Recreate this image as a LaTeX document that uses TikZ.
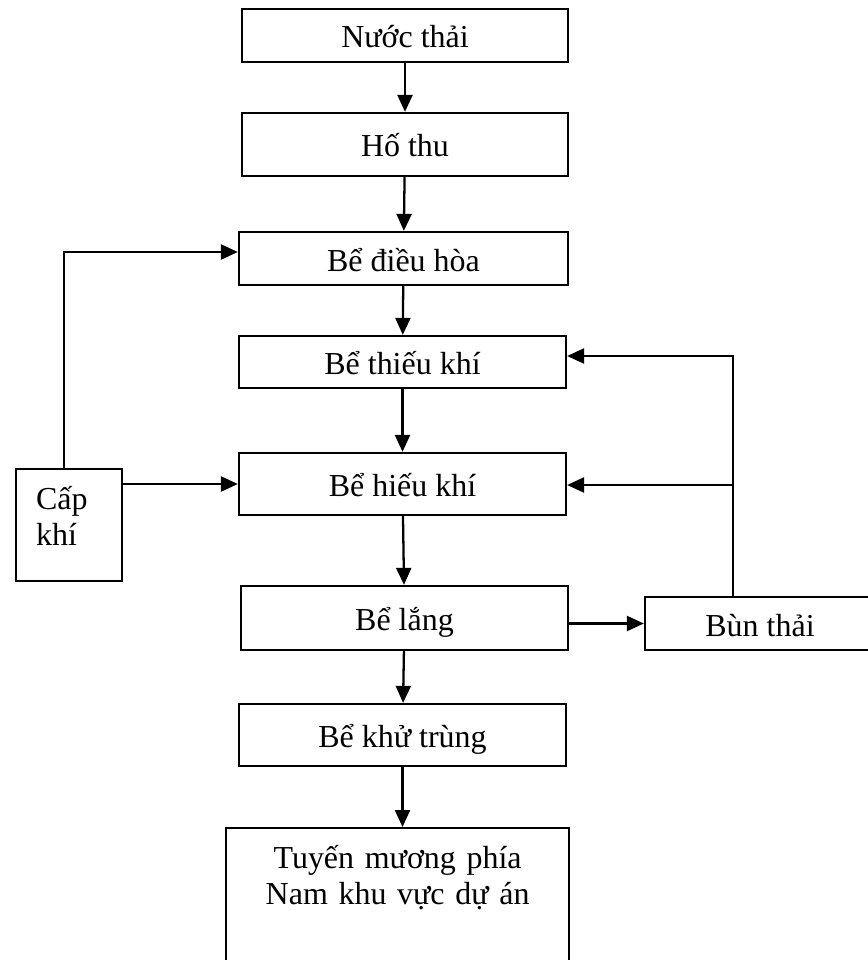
\documentclass[tikz,border=0pt]{standalone}
\usepackage{fontspec}
\setmainfont{Liberation Serif}
\usepackage{tikz}
\usetikzlibrary{arrows.meta}

\begin{document}
\begin{tikzpicture}[x=0.02cm, y=-0.02cm,
    >={Triangle[length=0.34cm, width=0.3cm]},
    every node/.style={font=\fontsize{18.2}{20.5}\selectfont},
    box/.style={draw, rectangle, line width=1.3pt, text height=0.5cm, text depth=0pt, inner sep=0pt},
    arr/.style={->, line width=1.3pt}]
    \useasboundingbox (0,0) rectangle (867,960);

    % Main line - one box under the other
    \node[box, minimum width=6.52cm, minimum height=1.06cm] (nuoc) at (405,35.5) {Nước thải};
    \node[box, minimum width=6.52cm, minimum height=1.26cm] (hothu) at (405,144.5) {Hố thu};
    \node[box, minimum width=6.58cm, minimum height=1.06cm] (dieuhoa) at (403.5,258.5) {Bể điều hòa};
    \node[box, minimum width=6.54cm, minimum height=1.04cm] (thieukhi) at (402.5,362) {Bể thiếu khí};
    \node[box, minimum width=6.54cm, minimum height=1.24cm] (hieukhi) at (402.5,484) {Bể hiếu khí};
    \node[box, minimum width=6.54cm, minimum height=1.28cm] (lang) at (404.5,618) {Bể lắng};
    \node[box, minimum width=6.54cm, minimum height=1.24cm] (khutrung) at (402.5,735) {Bể khử trùng};
    \node[box, anchor=north west, text width=6.26cm, align=center, inner xsep=0.3cm, inner ysep=0.3cm,
        text depth=3cm] (tuyen) at (225,827) {Tuyến mương phía\\
        Nam khu vực dự án};

    % Side boxes
    \node[box, anchor=north west, text width=1.32cm, align=left, inner xsep=0.4cm, inner ysep=0.3cm,
        text depth=1.14cm] (capkhi) at (15,468) {Cấp\\
        khí};
    \node[box, minimum width=4.6cm, minimum height=1.06cm] (bun) at (760,623.5) {Bùn thải};
    \coordinate (nhanh) at (733,485);

    % Edges along the main line
    \draw[arr] (nuoc) -- (hothu);
    \draw[arr] (hothu) -- (dieuhoa);
    \draw[arr] (dieuhoa) -- (thieukhi);
    \draw[arr] (thieukhi) -- (hieukhi);
    \draw[arr] (hieukhi) -- (lang);
    \draw[arr] (lang) -- (khutrung);
    \draw[arr] (khutrung) -- (tuyen.north -| khutrung.south);

    % Air supply
    \draw[arr] ([xshift=-0.1cm]capkhi.north) |- ([yshift=0.13cm]dieuhoa.west);
    \draw[arr] (capkhi.east |- hieukhi.west) -- (hieukhi.west);

    % Sludge
    \draw[arr] (lang.east |- bun.west) -- (bun.west);
    \draw[arr] (bun.north -| nhanh) |- ([yshift=0.12cm]thieukhi.east);
    \draw[arr] (nhanh) -- (hieukhi.east |- nhanh);
\end{tikzpicture}
\end{document}
